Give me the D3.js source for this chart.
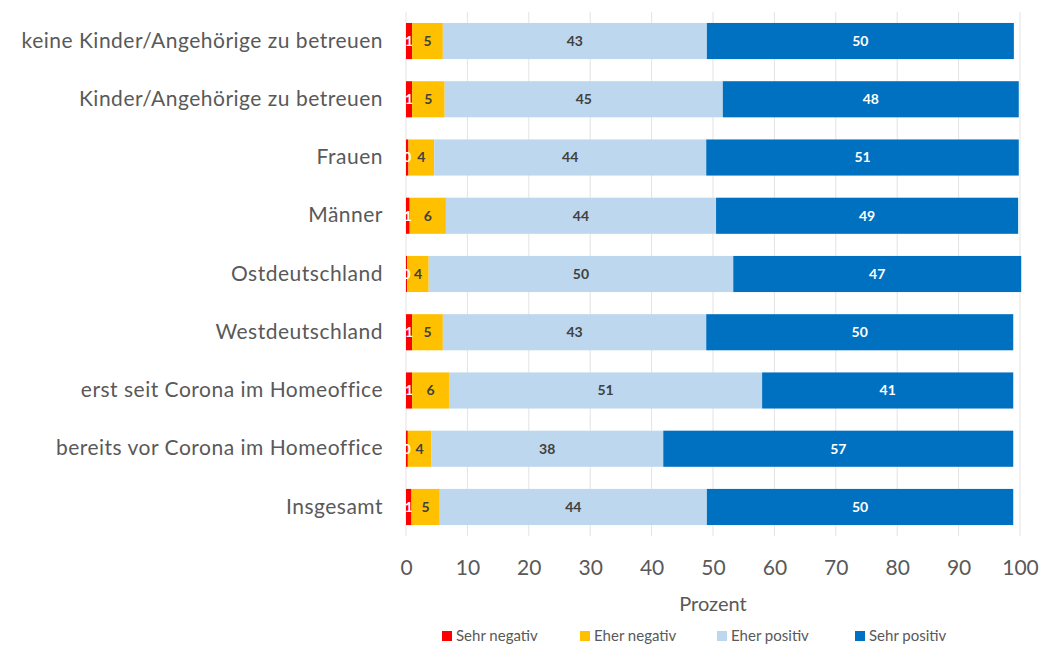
<!DOCTYPE html>
<html>
<head>
<meta charset="utf-8">
<script src="https://cdn.jsdelivr.net/npm/d3@7"></script>
<style>
  body { margin: 0; background: #fff; }
  svg { font-family: Lato, sans-serif; }
</style>
</head>
<body>
<svg id="chart"></svg>
<script>
var categories = [
    "keine Kinder/Angehörige zu betreuen",
    "Kinder/Angehörige zu betreuen",
    "Frauen",
    "Männer",
    "Ostdeutschland",
    "Westdeutschland",
    "erst seit Corona im Homeoffice",
    "bereits vor Corona im Homeoffice",
    "Insgesamt"
];
var seriesNames = ["Sehr negativ", "Eher negativ", "Eher positiv", "Sehr positiv"];
var sehrNegativ = [1.0, 1.0, 0.4, 0.6, 0.2, 1.0, 1.0, 0.3, 0.9];
var eherNegativ = [5.0, 5.3, 4.2, 5.9, 3.5, 5.0, 6.0, 3.8, 4.6];
var eherPositiv = [43.0, 45.3, 44.3, 44.0, 49.6, 42.9, 51.0, 37.8, 43.5];
var sehrPositiv = [50.0, 48.2, 50.9, 49.2, 46.9, 50.0, 40.9, 57.0, 49.9];
var xTicks = [0, 10, 20, 30, 40, 50, 60, 70, 80, 90, 100];

var colors = ["#ff0000", "#ffc000", "#bdd7ee", "#0070c0"];
var labelColors = ["#ffffff", "#404040", "#404040", "#ffffff"];

var width = 1040, height = 645;
var svg = d3.select("#chart").attr("width", width).attr("height", height);

var rows = categories.map(function (c, i) {
    return {cat: c, "Sehr negativ": sehrNegativ[i], "Eher negativ": eherNegativ[i],
        "Eher positiv": eherPositiv[i], "Sehr positiv": sehrPositiv[i]};
});
var stacked = d3.stack().keys(seriesNames)(rows);

var x = d3.scaleLinear().domain([0, 100]).range([406, 1020]);
var y = d3.scaleBand().domain(categories).range([11.9, 536.1])
    .paddingInner(0.38).paddingOuter(0.19);

// vertical gridlines
svg.append("g").selectAll("line")
    .data(xTicks).enter().append("line")
    .attr("x1", function (d) { return x(d); })
    .attr("x2", function (d) { return x(d); })
    .attr("y1", 12).attr("y2", 536)
    .attr("stroke", "#e3e3e3").attr("stroke-width", 1);

// bars
var layer = svg.append("g").selectAll("g")
    .data(stacked).enter().append("g")
    .attr("fill", function (d, i) { return colors[i]; });

layer.selectAll("rect")
    .data(function (d) { return d; })
    .enter().append("rect")
    .attr("x", function (d) { return x(d[0]); })
    .attr("y", function (d) { return y(d.data.cat); })
    .attr("width", function (d) { return x(d[1]) - x(d[0]); })
    .attr("height", y.bandwidth());

// value labels
svg.append("g").selectAll("g")
    .data(stacked).enter().append("g")
    .attr("fill", function (d, i) { return labelColors[i]; })
    .selectAll("text")
    .data(function (d) { return d; })
    .enter().append("text")
    .attr("x", function (d) { return (x(d[0]) + x(d[1])) / 2; })
    .attr("y", function (d) { return y(d.data.cat) + y.bandwidth() / 2; })
    .attr("dy", "0.35em")
    .attr("text-anchor", "middle")
    .style("font-size", "14px")
    .style("font-weight", "bold")
    .text(function (d) { return Math.round(d[1] - d[0]); });

// category labels
svg.append("g")
    .attr("transform", "translate(" + x(0) + ",0)")
    .call(d3.axisLeft(y).tickSize(0).tickPadding(23))
    .call(function (g) { g.select(".domain").remove(); })
    .selectAll("text")
    .attr("fill", "#595959")
    .style("font-size", "21px")
    .style("letter-spacing", "0.5px")
    .style("font-family", "Lato, sans-serif");

// x axis
svg.append("g")
    .attr("transform", "translate(0,558)")
    .call(d3.axisBottom(x).tickValues(xTicks).tickSize(0).tickPadding(2))
    .call(function (g) { g.select(".domain").remove(); })
    .selectAll("text")
    .attr("fill", "#595959")
    .style("font-size", "21px")
    .style("font-family", "Lato, sans-serif");

svg.append("text")
    .attr("x", x(50)).attr("y", 611)
    .attr("text-anchor", "middle")
    .attr("fill", "#595959")
    .style("font-size", "20px")
    .text("Prozent");

// legend
var legendX = [442, 580, 717, 855];
var legend = svg.append("g").selectAll("g")
    .data(seriesNames).enter().append("g")
    .attr("transform", function (d, i) { return "translate(" + legendX[i] + ",631)"; });
legend.append("rect")
    .attr("width", 10).attr("height", 10)
    .attr("fill", function (d, i) { return colors[i]; });
legend.append("text")
    .attr("x", 14).attr("y", 5).attr("dy", "0.35em")
    .attr("fill", "#595959")
    .style("font-size", "15px")
    .text(function (d) { return d; });
</script>
</body>
</html>
